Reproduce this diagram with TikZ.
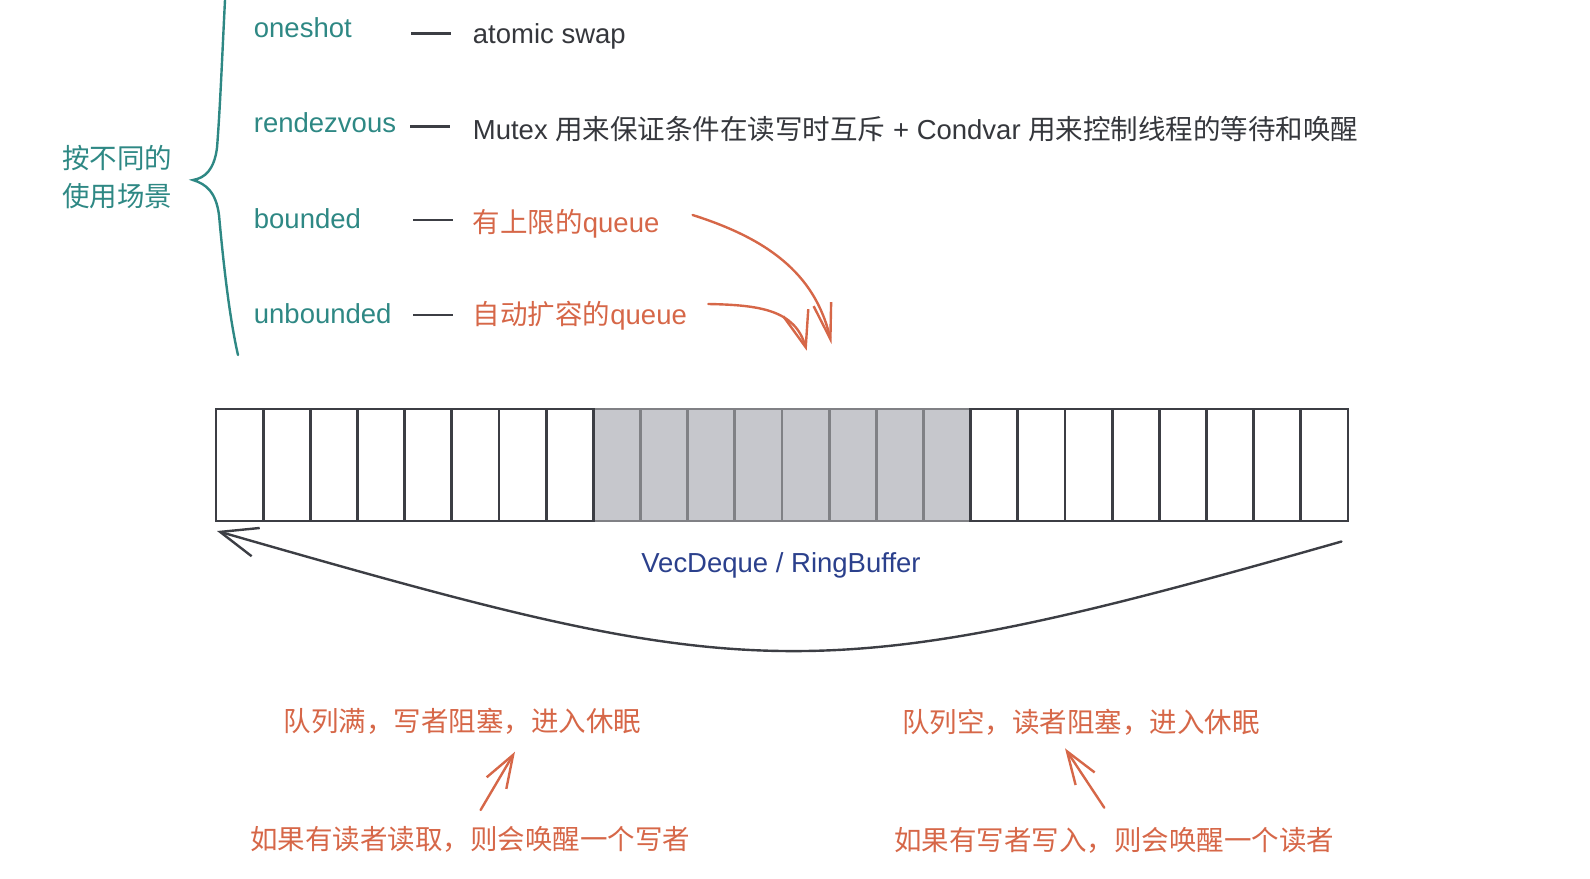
\documentclass[tikz,border=0pt]{standalone}
\usepackage{fontspec}
\setmainfont{Liberation Sans}
\newfontfamily\cjk{Noto Sans CJK SC}
\usetikzlibrary{arrows.meta}
\definecolor{cteal}{HTML}{2E8884}
\definecolor{corange}{HTML}{D66748}
\definecolor{cblue}{HTML}{2B408C}
\definecolor{cdark}{HTML}{35373C}
\definecolor{cline}{HTML}{3C3E44}
\definecolor{cgfill}{HTML}{C6C7CC}
\definecolor{cgline}{HTML}{808185}
\newcommand\fsz{\fontsize{13.75}{16}\selectfont}
\tikzset{
  lbl/.style={font=\fsz, text=cteal, inner sep=0pt, anchor=base west},
  desc/.style={font=\fsz, text=cdark, inner sep=0pt, anchor=base west},
  note/.style={font=\fsz\cjk, text=corange, inner sep=0pt, anchor=center, text height=0.88em, text depth=0.12em},
  dashln/.style={draw=cline, line width=1.3pt},
  wcell/.style={draw=cline, fill=white, line width=1.4pt, minimum width=23.58pt, minimum height=56pt, inner sep=0pt, outer sep=0pt},
  gcell/.style={draw=cgline, fill=cgfill, line width=1.4pt, minimum width=23.58pt, minimum height=56pt, inner sep=0pt, outer sep=0pt},
  darrow/.style={draw=cline, line width=1.2pt, line cap=round},
  oarrow/.style={draw=corange, line width=1.2pt, line cap=round},
}
\begin{document}
\begin{tikzpicture}[x=0.5pt,y=-0.5pt]
\useasboundingbox (0,0) rectangle (1590,878);
% brace
\draw[cteal, line width=1.2pt, line cap=round]
  (225,0) .. controls (222,60) and (220,110) .. (217,148)
  .. controls (214,170) and (205,178) .. (193,180)
  .. controls (206,184) and (216,192) .. (219,215)
  .. controls (224,270) and (230,320) .. (238,355);
\node[font=\fsz\cjk, text=cteal, align=center, inner sep=0pt] (scene) at (117,177)
  {按不同的\\[3pt]使用场景};
% labels
\node[lbl] (oneshot) at (253.5,37.3) {oneshot};
\node[lbl] (rdv) at (253.5,132.7) {rendezvous};
\node[lbl] (bnd) at (253.5,228) {bounded};
\node[lbl] (ubnd) at (253.5,323) {unbounded};
\draw[dashln] (411,33.3) -- (451,33.3);
\draw[dashln] (410,126.7) -- (450,126.7);
\draw[dashln] (413,220) -- (453,220);
\draw[dashln] (413,315) -- (453,315);
\node[desc] (d1) at (472.5,43.3) {atomic swap};
\node[desc] (d2) at (472.5,139.3) {Mutex {\cjk 用来保证条件在读写时互斥} + Condvar {\cjk 用来控制线程的等待和唤醒}};
\node[desc,text=corange] (d3) at (472.5,232.5) {{\cjk 有上限的}queue};
\node[desc,text=corange] (d4) at (472.5,324) {{\cjk 自动扩容的}queue};
% orange arrows into the buffer
\coordinate (a1s) at (692.6,215);
\coordinate (a1e) at (831.5,344);
\coordinate (a2s) at (708.3,304);
\coordinate (a2e) at (806.7,350.7);
\draw[oarrow, -{Straight Barb[length=18pt,width=9pt]}] (a1s) .. controls (765,238) and (815,272) .. (a1e);
\draw[oarrow, -{Straight Barb[length=18pt,width=13pt]}] (a2s) .. controls (760,305) and (795,310) .. (a2e);
% cells
\foreach \i in {8,...,15}
  \node[gcell] (c\i) at ({216+47.167*(\i+0.5)},465) {};
\foreach \i in {0,...,7,16,17,...,23}
  \node[wcell] (c\i) at ({216+47.167*(\i+0.5)},465) {};
\node[font=\fsz, text=cblue, inner sep=0pt] (vd) at (781,565) {VecDeque / RingBuffer};
% wrap-around arrow
\coordinate (ws) at (1341.5,541.5);
\coordinate (we) at (217,531);
\draw[darrow, -{Straight Barb[length=18.5pt,width=14.7pt]}] (ws) .. controls (808,694) and (750,684) .. (we);
% bottom notes
\node[note] (full) at (462.5,723.7) {队列满，写者阻塞，进入休眠};
\node[note] (rd) at (470,842) {如果有读者读取，则会唤醒一个写者};
\node[note] (empty) at (1081,724.5) {队列空，读者阻塞，进入休眠};
\node[note] (wr) at (1114,843) {如果有写者写入，则会唤醒一个读者};
\coordinate (b1s) at (480.6,810);
\coordinate (b1e) at (515,751.7);
\coordinate (b2s) at (1104.3,807.7);
\coordinate (b2e) at (1065,748.3);
\draw[oarrow, -{Straight Barb[length=16.4pt,width=11.4pt]}] (b1s) -- (b1e);
\draw[oarrow, -{Straight Barb[length=16.4pt,width=11.4pt]}] (b2s) -- (b2e);
\end{tikzpicture}
\end{document}
